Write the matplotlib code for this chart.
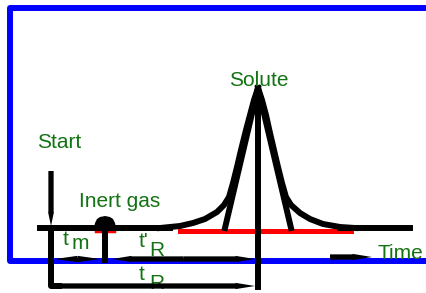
import matplotlib
matplotlib.use("Agg")
import matplotlib.pyplot as plt
from matplotlib.patches import FancyArrowPatch

# picture is drawn in pixel units (y grows downwards)
W, H = 426, 293

# blue frame (open at the right)
frame_x = [426, 10, 10, 426]
frame_y = [8, 8, 261, 261]

# baseline of the chromatogram
base_y = 228
base_left = [40, 170]
base_right = [340, 410]

# solute peak
solute_x = [160, 180, 193, 205, 217, 224, 229, 233, 237, 241, 246, 250, 254, 258,
            262, 266, 270, 274, 278, 282, 286, 291, 300, 310, 323, 340, 355]
solute_y = [228, 226, 223, 219, 212, 205, 197, 183, 167, 150, 130, 115, 100, 88,
            100, 115, 133, 150, 167, 183, 197, 205, 213, 219, 224, 227, 228]
apex = (258, 88)
tangent_feet = [225, 291]
red_base = [180, 351]

# inert gas (air) peak
inert_x = [94, 95, 97, 100, 105, 110, 113, 115, 116]
inert_y = [228, 223, 219, 217, 216, 217, 219, 223, 228]
inert_red = [96, 114]

# time marks
start_x = 51
t_m = [55, 100]
t_r_prime = [112, 255]
t_r = [55, 255]
time_arrow = [330, 372]
row_m = 259
row_r = 286

green = "#127312"
lw = 4.3

fig = plt.figure(figsize=(W / 100, H / 100), dpi=100)
ax = fig.add_axes([0, 0, 1, 1])
ax.set_xlim(0, W)
ax.set_ylim(H, 0)
ax.axis("off")

ax.plot(frame_x, frame_y, color="#0000ff", lw=lw, solid_joinstyle="round", zorder=1)

# red parts under the peaks
ax.plot(red_base, [base_y + 3, base_y + 3], color="#ff0000", lw=3.6, zorder=2)
ax.plot(inert_red, [base_y + 3, base_y + 3], color="#ff0000", lw=2.5, zorder=2)

ax.plot(base_left, [base_y, base_y], color="k", lw=lw, zorder=3)
ax.plot(base_right, [base_y, base_y], color="k", lw=lw, zorder=3)
ax.plot(solute_x, solute_y, color="k", lw=lw, solid_joinstyle="round", zorder=3)
ax.fill(inert_x, inert_y, color="k", lw=0, zorder=3)

# tangents and apex line
for fx in tangent_feet:
    ax.plot([apex[0], fx], [apex[1], base_y], color="k", lw=lw, zorder=3)
ax.plot([apex[0], apex[0]], [apex[1], row_r + 1], color="k", lw=lw, zorder=3)
ax.plot([105, 105], [222, row_m + 1], color="k", lw=lw, zorder=3)

# start line down to t_R row
ax.plot([start_x, start_x, t_r[0] + 4], [base_y, row_r, row_r], color="k", lw=lw,
        solid_joinstyle="round", zorder=3)


def arrow(x0, y0, x1, y1, hw=0.45, hl=1.4):
    style = "simple,head_length=%s,head_width=%s,tail_width=0.38" % (hl, hw)
    ax.add_patch(FancyArrowPatch((x0, y0), (x1, y1), arrowstyle=style,
                                 mutation_scale=10, color="k", lw=0,
                                 shrinkA=0, shrinkB=0, zorder=4))


arrow(start_x, 171, start_x, base_y - 2, hw=0.42, hl=1.0)
mid = sum(t_m) / 2
arrow(mid, row_m, t_m[0], row_m, hl=1.6)
arrow(mid, row_m, t_m[1], row_m, hl=1.6)
mid = sum(t_r_prime) / 2
arrow(mid, row_m, t_r_prime[0], row_m)
arrow(mid, row_m, t_r_prime[1], row_m)
arrow(t_r[0], row_r, t_r[1], row_r)
arrow(time_arrow[0], 257, time_arrow[1], 257)

font = dict(family="Liberation Sans", color=green, va="baseline", ha="left")
ax.text(37, 148, "Start", fontsize=15, **font)
ax.text(229, 86.5, "Solute", fontsize=15, **font)
ax.text(79, 207, "Inert gas", fontsize=15, **font)
ax.text(377, 259, "Time", fontsize=15, **font)
ax.text(63, 245, "t", fontsize=15, **font)
ax.text(72, 249, "m", fontsize=15, **font)
ax.text(139, 247, "t'", fontsize=15, **font)
ax.text(149, 256, "R", fontsize=15, **font)
ax.text(139, 280, "t", fontsize=15, **font)
ax.text(149, 289, "R", fontsize=15, **font)

fig.savefig("out.png", dpi=100)
